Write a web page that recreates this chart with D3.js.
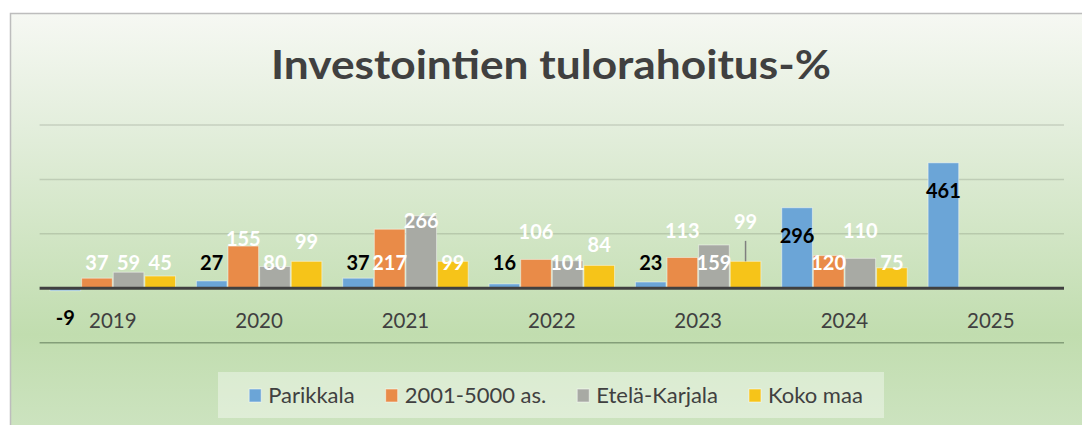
<!DOCTYPE html>
<html>
<head>
<meta charset="utf-8">
<script src="https://cdn.jsdelivr.net/npm/d3@7"></script>
<style>
  html, body { margin: 0; padding: 0; background: #ffffff; }
  svg { display: block; }
  text { font-family: Lato, "Open Sans", sans-serif; }
</style>
</head>
<body>
<svg id="chart" width="1082" height="425"></svg>
<script>
// ---- data ----
const title = "Investointien tulorahoitus-%";
const categories = ["2019", "2020", "2021", "2022", "2023", "2024", "2025"];
const seriesNames = ["Parikkala", "2001-5000 as.", "Etelä-Karjala", "Koko maa"];
const parikkala    = [-9, 27, 37, 16, 23, 296, 461];
const kunnat2001   = [37, 155, 217, 106, 113, 120, null];
const etelaKarjala = [59, 80, 266, 101, 159, 110, null];
const kokoMaa      = [45, 99, 99, 84, 99, 75, null];
// where each data label sits, in value units (labels were hand-placed in the original)
const labelAtParikkala = [-109, 93, 93, 93, 93, 192, 358];
const labelAt2001      = [93, 181, 93, 207, 211, 93, null];
const labelAtEK        = [93, 93, 247, 93, 93, 211, null];
const labelAtKoko      = [93, 170, 93, 159, 244, 93, null];
const gridTicks = [-200, 0, 200, 400, 600];

const seriesValues = [parikkala, kunnat2001, etelaKarjala, kokoMaa];
const seriesLabelAt = [labelAtParikkala, labelAt2001, labelAtEK, labelAtKoko];
const colors = ["#6ba5d7", "#e98b48", "#a8aaa4", "#f6c419"];
const labelColors = ["#000000", "#ffffff", "#ffffff", "#ffffff"];

// ---- layout ----
const W = 1082, H = 425;
const plot = { left: 39.6, right: 1064, top: 125, bottom: 342.7 };
const svg = d3.select("#chart");

// background
const defs = svg.append("defs");
const grad = defs.append("linearGradient").attr("id", "bg")
  .attr("x1", 0).attr("y1", 0).attr("x2", 0).attr("y2", 1);
grad.append("stop").attr("offset", "0%").attr("stop-color", "#f6f8f3");
grad.append("stop").attr("offset", "28%").attr("stop-color", "#e3eedc");
grad.append("stop").attr("offset", "78%").attr("stop-color", "#c1ddaf");
grad.append("stop").attr("offset", "100%").attr("stop-color", "#cce3bf");

svg.append("rect").attr("x", 10).attr("y", 13).attr("width", W - 10).attr("height", H - 13)
  .attr("fill", "url(#bg)");
svg.append("path").attr("d", `M10.5,${H} L10.5,13.5 L${W},13.5`)
  .attr("fill", "none").attr("stroke", "#bdbdbd").attr("stroke-width", 1.5);

// title
svg.append("text")
  .attr("x", 551).attr("y", 79)
  .attr("text-anchor", "middle")
  .attr("font-size", 40).attr("font-weight", 700)
  .attr("fill", "#404040")
  .attr("textLength", 560).attr("lengthAdjust", "spacingAndGlyphs")
  .text(title);

// scales
const x0 = d3.scaleBand().domain(categories).range([plot.left, plot.right])
  .paddingInner(0.136).paddingOuter(0.068);
const x1 = d3.scaleBand().domain(d3.range(seriesNames.length)).range([0, x0.bandwidth()]).padding(0);
const y = d3.scaleLinear().domain([-200, 600]).range([plot.bottom, plot.top]);

// gridlines
const g = svg.append("g");
g.selectAll("line.grid").data(gridTicks.filter(t => t !== 0)).enter().append("line")
  .attr("class", "grid")
  .attr("x1", plot.left).attr("x2", plot.right)
  .attr("y1", d => y(d)).attr("y2", d => y(d))
  .attr("stroke", d => d === gridTicks[0] ? "rgba(70,95,65,0.5)" : "rgba(80,90,75,0.2)")
  .attr("stroke-width", 1.5);

// bars
const barData = [];
categories.forEach((c, i) => {
  seriesValues.forEach((vals, s) => {
    if (vals[i] !== null) barData.push({ cat: c, s, v: vals[i], at: seriesLabelAt[s][i] });
  });
});

g.selectAll("rect.bar").data(barData).enter().append("rect")
  .attr("class", "bar")
  .attr("x", d => x0(d.cat) + x1(d.s) + 0.5)
  .attr("width", x1.bandwidth() - 1)
  .attr("y", d => y(Math.max(0, d.v)))
  .attr("height", d => Math.abs(y(d.v) - y(0)))
  .attr("fill", d => colors[d.s])
  .attr("stroke", "rgba(255,255,255,0.45)")
  .attr("stroke-width", 1);

// zero axis line
g.append("line")
  .attr("x1", plot.left).attr("x2", plot.right)
  .attr("y1", y(0)).attr("y2", y(0))
  .attr("stroke", "#404040").attr("stroke-width", 3);

// category labels
const xAxis = d3.axisBottom(x0).tickSize(0).tickPadding(0);
const ax = g.append("g").attr("transform", `translate(0,${y(0)})`).call(xAxis);
ax.select(".domain").remove();
ax.selectAll("text")
  .attr("y", 32).attr("dy", "0.36em")
  .attr("font-size", 20.5).attr("fill", "#404040")
  .attr("font-family", "Lato, 'Open Sans', sans-serif");

// leader line for the hand-moved label (Koko maa 2023)
const leaders = barData.filter(d => d.s === 3 && d.cat === "2023");
g.selectAll("line.leader").data(leaders).enter().append("line")
  .attr("x1", d => x0(d.cat) + x1(d.s) + x1.bandwidth() / 2)
  .attr("x2", d => x0(d.cat) + x1(d.s) + x1.bandwidth() / 2)
  .attr("y1", d => y(d.at) + 19)
  .attr("y2", d => y(d.v))
  .attr("stroke", "#7f7f7f").attr("stroke-width", 1.5);

// data labels
g.selectAll("text.lbl").data(barData).enter().append("text")
  .attr("class", "lbl")
  .attr("x", d => x0(d.cat) + x1(d.s) + x1.bandwidth() / 2)
  .attr("y", d => y(d.at))
  .attr("dy", "0.36em")
  .attr("text-anchor", "middle")
  .attr("font-size", 20).attr("font-weight", 700)
  .attr("fill", d => labelColors[d.s])
  .text(d => d.v);

// legend
const legend = svg.append("g");
legend.append("rect").attr("x", 218).attr("y", 372).attr("width", 666).attr("height", 46)
  .attr("fill", "rgba(255,255,255,0.38)");
const items = legend.selectAll("g.item").data(seriesNames).enter().append("g").attr("class", "item");
items.append("rect").attr("width", 12).attr("height", 13).attr("y", 389)
  .attr("fill", (d, i) => colors[i]).attr("stroke", "rgba(255,255,255,0.5)");
items.append("text").attr("y", 402.5).attr("font-size", 22).attr("fill", "#404040").text(d => d);
const widths = [];
items.each(function () { widths.push(d3.select(this).select("text").node().getComputedTextLength()); });
const sqW = 12, gapT = 7, gapI = 31;
const total = d3.sum(widths) + widths.length * (sqW + gapT) + (widths.length - 1) * gapI;
let cx = 556 - total / 2;
items.each(function (d, i) {
  const it = d3.select(this);
  it.select("rect").attr("x", cx);
  it.select("text").attr("x", cx + sqW + gapT);
  cx += sqW + gapT + widths[i] + gapI;
});
</script>
</body>
</html>
